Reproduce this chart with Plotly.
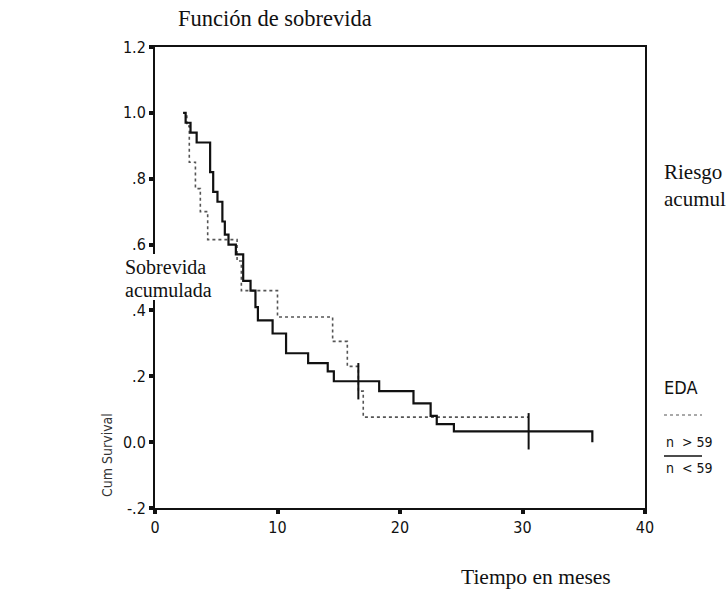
import plotly.graph_objects as go

# Group "> 59" (dotted curve): step times (months) and survival after each step
t_old = [2.3, 2.6, 2.8, 3.3, 3.7, 4.3, 6.7, 7.05, 10.0, 14.5, 15.7, 16.6, 17.0, 30.5]
s_old = [1.0, 0.96, 0.85, 0.77, 0.70, 0.615, 0.55, 0.46, 0.38, 0.306, 0.23, 0.155, 0.076, 0.076]

# Group "< 59" (solid curve)
t_young = [2.3, 2.5, 2.9, 3.4, 4.5, 4.75, 5.1, 5.5, 5.7, 6.0, 6.6, 7.2, 7.8, 8.2, 8.4,
           9.6, 10.7, 12.5, 14.1, 14.6, 18.3, 21.1, 22.5, 23.0, 24.4, 35.7, 35.7]
s_young = [1.0, 0.97, 0.94, 0.91, 0.82, 0.76, 0.73, 0.67, 0.63, 0.60, 0.57, 0.49, 0.46, 0.41, 0.37,
           0.33, 0.27, 0.24, 0.215, 0.185, 0.155, 0.118, 0.08, 0.055, 0.033, 0.033, 0.0]

# censor marks on the solid curve
t_cens = [16.6, 30.5]
s_cens = [0.185, 0.033]

x_ticks = [0, 10, 20, 30, 40]
y_ticks = [1.2, 1.0, 0.8, 0.6, 0.4, 0.2, 0.0, -0.2]
y_ticktext = ["1.2", "1.0", ".8", ".6", ".4", ".2", "0.0", "-.2"]

narrow = "Liberation Sans Narrow, DejaVu Sans Condensed, Arial Narrow, sans-serif"
serif = "Liberation Serif, Times New Roman, serif"

fig = go.Figure()
fig.add_trace(go.Scatter(x=t_old, y=s_old, mode="lines", line_shape="hv",
                         line=dict(color="#555", width=1.6, dash="dot"), showlegend=False))
fig.add_trace(go.Scatter(x=t_young, y=s_young, mode="lines", line_shape="hv",
                         line=dict(color="#111", width=2.2), showlegend=False))
fig.add_trace(go.Scatter(x=t_cens, y=s_cens, mode="markers",
                         marker=dict(symbol="line-ns-open", size=26, color="#111",
                                     line=dict(color="#111", width=2)),
                         showlegend=False))

fig.update_layout(
    width=726, height=591,
    margin=dict(l=155, r=81, t=47, b=83),
    paper_bgcolor="white", plot_bgcolor="white",
    xaxis=dict(range=[0, 40], tickvals=x_ticks, showgrid=False, zeroline=False,
               showline=True, linecolor="#111", linewidth=2, mirror=True,
               ticks="outside", ticklen=4, tickwidth=4, tickcolor="#111",
               tickfont=dict(family=narrow, size=16, color="#111")),
    yaxis=dict(range=[-0.2, 1.2], tickvals=y_ticks, ticktext=y_ticktext, showgrid=False, zeroline=False,
               showline=True, linecolor="#111", linewidth=2, mirror=True,
               ticks="outside", ticklen=4, tickwidth=4, tickcolor="#111",
               tickfont=dict(family=narrow, size=16, color="#111")),
    showlegend=False,
)

def px(xp, yp):
    return (xp - 155) / 490, (508 - yp) / 461

annots = [
    (275, 18, "Función de sobrevida", serif, 22.5, "center"),
    (536, 577, "Tiempo en meses", serif, 21.5, "center"),
    (680, 387, "EDA", narrow, 18, "center"),
    (689, 442, "n  > 59", narrow, 14, "center"),
    (689, 468, "n  < 59", narrow, 14, "center"),
    (165, 267, "Sobrevida", serif, 20, "center"),
    (168, 290, "acumulada", serif, 20, "center"),
]
for xp, yp, txt, fam, sz, al in annots:
    ax, ay = px(xp, yp)
    fig.add_annotation(x=ax, y=ay, xref="paper", yref="paper", text=txt, showarrow=False,
                       font=dict(family=fam, size=sz, color="#111"), align=al,
                       xanchor="center", yanchor="middle", borderpad=0)

# the axis line is hidden behind the "Sobrevida acumulada" text in the scan
rx0, ry0 = px(150, 254)
rx1, ry1 = px(160, 300)
fig.add_shape(type="rect", xref="paper", yref="paper", x0=rx0, x1=rx1, y0=ry0, y1=ry1,
              fillcolor="white", line=dict(width=0), layer="above")

ax, ay = px(662, 185)
fig.add_annotation(x=ax, y=ay, xref="paper", yref="paper", text="Riesgo<br>acumulado",
                   showarrow=False, font=dict(family=serif, size=21, color="#111"), align="left",
                   xanchor="left", yanchor="middle")

ax, ay = px(107, 455)
fig.add_annotation(x=ax, y=ay, xref="paper", yref="paper", text="Cum Survival", textangle=-90,
                   showarrow=False, font=dict(family=narrow, size=14, color="#333"),
                   xanchor="center", yanchor="middle")

# legend line samples
x0, _ = px(664, 0)
x1, _ = px(702, 0)
_, yd = px(0, 415)
_, ys = px(0, 456)
fig.add_shape(type="line", xref="paper", yref="paper", x0=x0, x1=x1, y0=yd, y1=yd,
              line=dict(color="#555", width=1.2, dash="dot"))
fig.add_shape(type="line", xref="paper", yref="paper", x0=x0, x1=x1, y0=ys, y1=ys,
              line=dict(color="#111", width=1.5))

fig.write_html("out.html")
